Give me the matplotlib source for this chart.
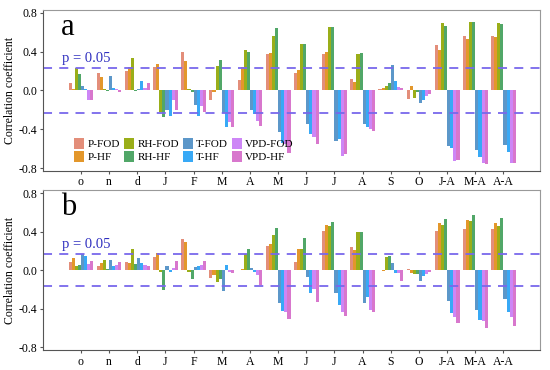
import numpy as np
import matplotlib.pyplot as plt

# categories and series
months = ['o', 'n', 'd', 'J', 'F', 'M', 'A', 'M', 'J', 'J', 'A', 'S', 'O', 'J-A', 'M-A', 'A-A']
series = ['P-FOD', 'P-HF', 'RH-FOD', 'RH-HF', 'T-FOD', 'T-HF', 'VPD-FOD', 'VPD-HF']
colors = ['#E0826C', '#E08C14', '#8FA500', '#3E9E58', '#4A8CC4', '#22A0F5', '#C879F5', '#D468C8']

# panel a (one list per series, in month order)
a_p_fod = [0.08, 0.18, 0.20, 0.24, 0.40, -0.10, 0.11, 0.38, 0.18, 0.38, 0.12, 0.01, -0.09, 0.47, 0.56, 0.56]
a_p_hf = [0.02, 0.14, 0.24, 0.27, 0.30, -0.02, 0.24, 0.39, 0.21, 0.40, 0.09, 0.03, 0.05, 0.42, 0.53, 0.55]
a_rh_fod = [0.23, 0.01, 0.33, -0.22, 0.01, 0.25, 0.42, 0.56, 0.48, 0.65, 0.38, 0.05, -0.08, 0.70, 0.71, 0.70]
a_rh_hf = [0.17, -0.01, -0.01, -0.27, -0.02, 0.31, 0.40, 0.64, 0.48, 0.65, 0.39, 0.08, -0.02, 0.66, 0.71, 0.69]
a_t_fod = [0.05, 0.15, 0.02, -0.20, -0.15, -0.23, -0.20, -0.43, -0.35, -0.52, -0.35, 0.26, -0.13, -0.57, -0.61, -0.56]
a_t_hf = [0.02, 0.03, 0.10, -0.26, -0.26, -0.38, -0.24, -0.54, -0.45, -0.50, -0.38, 0.10, -0.10, -0.59, -0.69, -0.63]
a_vpd_fod = [-0.10, 0.02, 0.03, -0.10, -0.16, -0.33, -0.32, -0.55, -0.48, -0.68, -0.40, 0.04, -0.06, -0.73, -0.75, -0.75]
a_vpd_hf = [-0.10, -0.02, 0.08, -0.20, -0.22, -0.38, -0.37, -0.64, -0.55, -0.66, -0.42, 0.03, -0.04, -0.72, -0.76, -0.75]

# panel b
b_p_fod = [0.08, 0.04, 0.08, 0.14, 0.32, -0.08, 0.00, 0.25, 0.08, 0.41, 0.24, 0.00, 0.01, 0.41, 0.43, 0.43]
b_p_hf = [0.13, 0.07, 0.07, 0.18, 0.29, -0.05, 0.01, 0.27, 0.22, 0.47, 0.21, -0.01, -0.03, 0.49, 0.52, 0.49]
b_rh_fod = [0.04, 0.10, 0.22, -0.02, -0.02, -0.12, 0.17, 0.36, 0.22, 0.46, 0.40, 0.14, -0.04, 0.47, 0.51, 0.46]
b_rh_hf = [0.05, 0.01, 0.06, -0.21, -0.09, -0.09, 0.22, 0.44, 0.33, 0.50, 0.40, 0.15, -0.04, 0.53, 0.57, 0.54]
b_t_fod = [0.17, 0.10, 0.13, 0.04, 0.03, -0.22, 0.02, -0.34, -0.07, -0.24, -0.34, 0.07, -0.11, -0.32, -0.41, -0.30]
b_t_hf = [0.15, 0.04, 0.07, -0.02, 0.04, 0.05, -0.02, -0.42, -0.24, -0.36, -0.28, -0.03, -0.06, -0.45, -0.52, -0.44]
b_vpd_fod = [0.06, 0.05, 0.05, 0.02, 0.05, -0.02, -0.05, -0.44, -0.20, -0.43, -0.41, -0.03, -0.04, -0.49, -0.53, -0.49]
b_vpd_hf = [0.09, 0.08, 0.04, 0.09, 0.09, -0.03, -0.15, -0.51, -0.33, -0.48, -0.43, -0.11, -0.02, -0.55, -0.60, -0.58]

panel_a = [a_p_fod, a_p_hf, a_rh_fod, a_rh_hf, a_t_fod, a_t_hf, a_vpd_fod, a_vpd_hf]
panel_b = [b_p_fod, b_p_hf, b_rh_fod, b_rh_hf, b_t_fod, b_t_hf, b_vpd_fod, b_vpd_hf]
sig_a = 0.232
sig_b = 0.165

plt.rcParams['font.family'] = ['Liberation Serif', 'DejaVu Serif']

fig = plt.figure(figsize=(5.5, 3.7), dpi=100)
ax_a = fig.add_axes([0.078, 0.538, 0.904, 0.435])
ax_b = fig.add_axes([0.078, 0.054, 0.904, 0.432])

x = np.arange(len(months))
w = 0.11


def draw_panel(ax, data, sig, letter, legend=False):
    for i, vals in enumerate(data):
        ax.bar(x + (i - 3.5) * w, vals, width=w, color=colors[i], alpha=0.9,
               label=series[i], linewidth=0)
    ax.axhline(sig, color='#7868EC', ls=(0, (5, 4)), lw=1.3)
    ax.axhline(-sig, color='#7868EC', ls=(0, (5, 4)), lw=1.3)
    ax.text(0.2, sig + 0.035, 'p = 0.05', color='#3030C0', fontsize=10.5,
            ha='center', va='bottom')
    ax.text(-0.7, 0.8, letter, fontsize=22, ha='left', va='top')
    ax.set_xlim(-1.35, 16.3)
    ax.set_ylim(-0.83, 0.83)
    ax.set_yticks([-0.8, -0.4, 0.0, 0.4, 0.8])
    ax.set_yticklabels(['-0.8', '-0.4', '0.0', '0.4', '0.8'])
    ax.set_xticks(x)
    ax.set_xticklabels(months)
    ax.tick_params(axis='both', labelsize=8.5, length=2.5, pad=1.5, color='#555555')
    ax.set_ylabel('Correlation coefficient', fontsize=8.5, labelpad=2)
    for s in ['top', 'right']:
        ax.spines[s].set_color('#999999')
    for s in ['left', 'bottom']:
        ax.spines[s].set_color('#555555')
    if legend:
        ax.legend(ncol=4, loc='lower left', bbox_to_anchor=(0.045, 0.0),
                  frameon=False, fontsize=8, handlelength=0.9, handleheight=1.1,
                  columnspacing=0.35, handletextpad=0.3, labelspacing=0.15,
                  borderpad=0.3)


draw_panel(ax_a, panel_a, sig_a, 'a', legend=True)
draw_panel(ax_b, panel_b, sig_b, 'b')

fig.savefig('out.png', dpi=100)
